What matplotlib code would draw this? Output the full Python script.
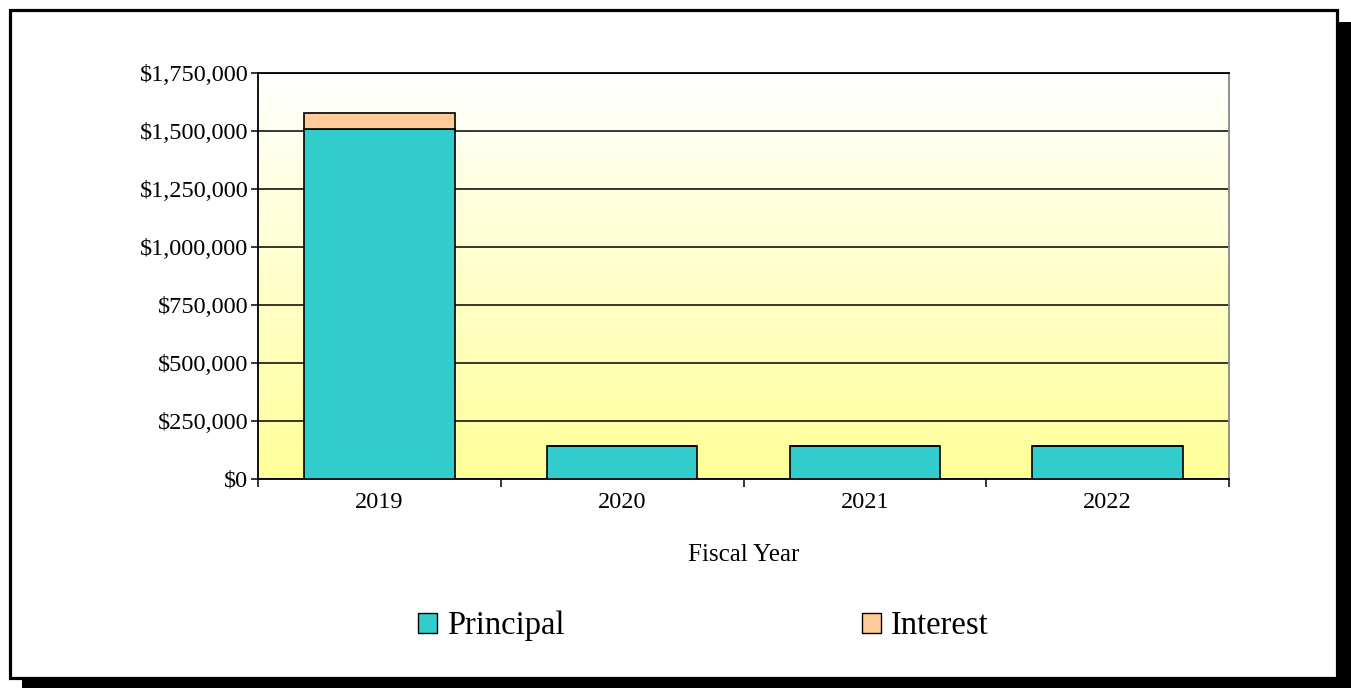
import numpy as np
import matplotlib

matplotlib.use('Agg')
import matplotlib.pyplot as plt
from matplotlib.patches import Rectangle, Patch
from matplotlib.ticker import FuncFormatter, MultipleLocator

# Debt service schedule by fiscal year
years = ['2019', '2020', '2021', '2022']
principal = [1510000, 142000, 142000, 142000]
interest = [68000, 0, 0, 0]

PRINCIPAL_COLOR = '#33CCCC'
INTEREST_COLOR = '#FFCC99'

plt.rcParams['font.family'] = 'Liberation Serif'

W, H = 1351, 688
fig = plt.figure(figsize=(W / 100, H / 100), dpi=100)
fig.patch.set_facecolor('white')


def px_box(x0, y0, x1, y1):
    # pixel box (top-left origin) -> figure fraction rect
    return (x0 / W, 1 - y1 / H, (x1 - x0) / W, (y1 - y0) / H)


# outer frame with drop shadow
for x0, y0, x1, y1 in [(1338, 22, W, H), (22, 679, W, H)]:
    l, b, w, h = px_box(x0, y0, x1, y1)
    fig.add_artist(Rectangle((l, b), w, h, transform=fig.transFigure,
                             facecolor='black', edgecolor='none'))
l, b, w, h = px_box(9.5, 9.5, 1336.5, 677.5)
fig.add_artist(Rectangle((l, b), w, h, transform=fig.transFigure,
                         facecolor='none', edgecolor='black', linewidth=2.3))

ax = fig.add_axes(px_box(258, 73, 1229, 479))

x = np.arange(len(years))
ymax = 1750000

# white (top) to yellow (bottom) gradient background
grad = np.linspace(0, 1, 256).reshape(-1, 1)
top = np.array([1.0, 1.0, 1.0])
bottom = np.array([1.0, 1.0, 0.6])
img = top + (bottom - top) * grad[..., None]
ax.imshow(img, extent=(-0.5, len(years) - 0.5, 0, ymax), aspect='auto',
          zorder=0, origin='upper')
ax.set_xlim(-0.5, len(years) - 0.5)
ax.set_ylim(0, ymax)

ax.yaxis.set_major_locator(MultipleLocator(250000))
ax.grid(axis='y', color='black', linewidth=1.1, zorder=1)
ax.set_axisbelow(True)

bar_w = 0.62
ax.bar(x, principal, width=bar_w, color=PRINCIPAL_COLOR, edgecolor='black',
       linewidth=1.2, zorder=3)
ax.bar(x, interest, width=bar_w, bottom=principal, color=INTEREST_COLOR,
       edgecolor='black', linewidth=1.2, zorder=3)

ax.yaxis.set_major_formatter(FuncFormatter(lambda v, p: '${:,.0f}'.format(v)))
ax.tick_params(axis='y', labelsize=17.5, length=5, width=1.1, direction='out', pad=2)

# category boundary ticks, labels centred under each bar
ax.set_xticks(np.arange(len(years) + 1) - 0.5)
ax.set_xticklabels([])
ax.set_xticks(x, minor=True)
ax.set_xticklabels(years, minor=True)
ax.tick_params(axis='x', which='major', length=6, width=1.1, direction='out')
ax.tick_params(axis='x', which='minor', length=0, labelsize=17.5, pad=9)

ax.set_xlabel('Fiscal Year', fontsize=18, labelpad=23)

for side in ['left', 'bottom', 'top']:
    ax.spines[side].set_linewidth(1.3)
    ax.spines[side].set_color('black')
ax.spines['right'].set_color('#888888')
ax.spines['right'].set_linewidth(1.3)

for label, color, xpx in [('Principal', PRINCIPAL_COLOR, 418),
                          ('Interest', INTEREST_COLOR, 862)]:
    h = Patch(facecolor=color, edgecolor='black', linewidth=1.0)
    leg = fig.legend(handles=[h], labels=[label], loc='center left',
                     bbox_to_anchor=(xpx / W, 1 - 626 / H), frameon=False,
                     fontsize=23.5, handlelength=0.58, handleheight=0.58,
                     handletextpad=0.3, borderpad=0, borderaxespad=0)

fig.savefig('out.png', dpi=100)
